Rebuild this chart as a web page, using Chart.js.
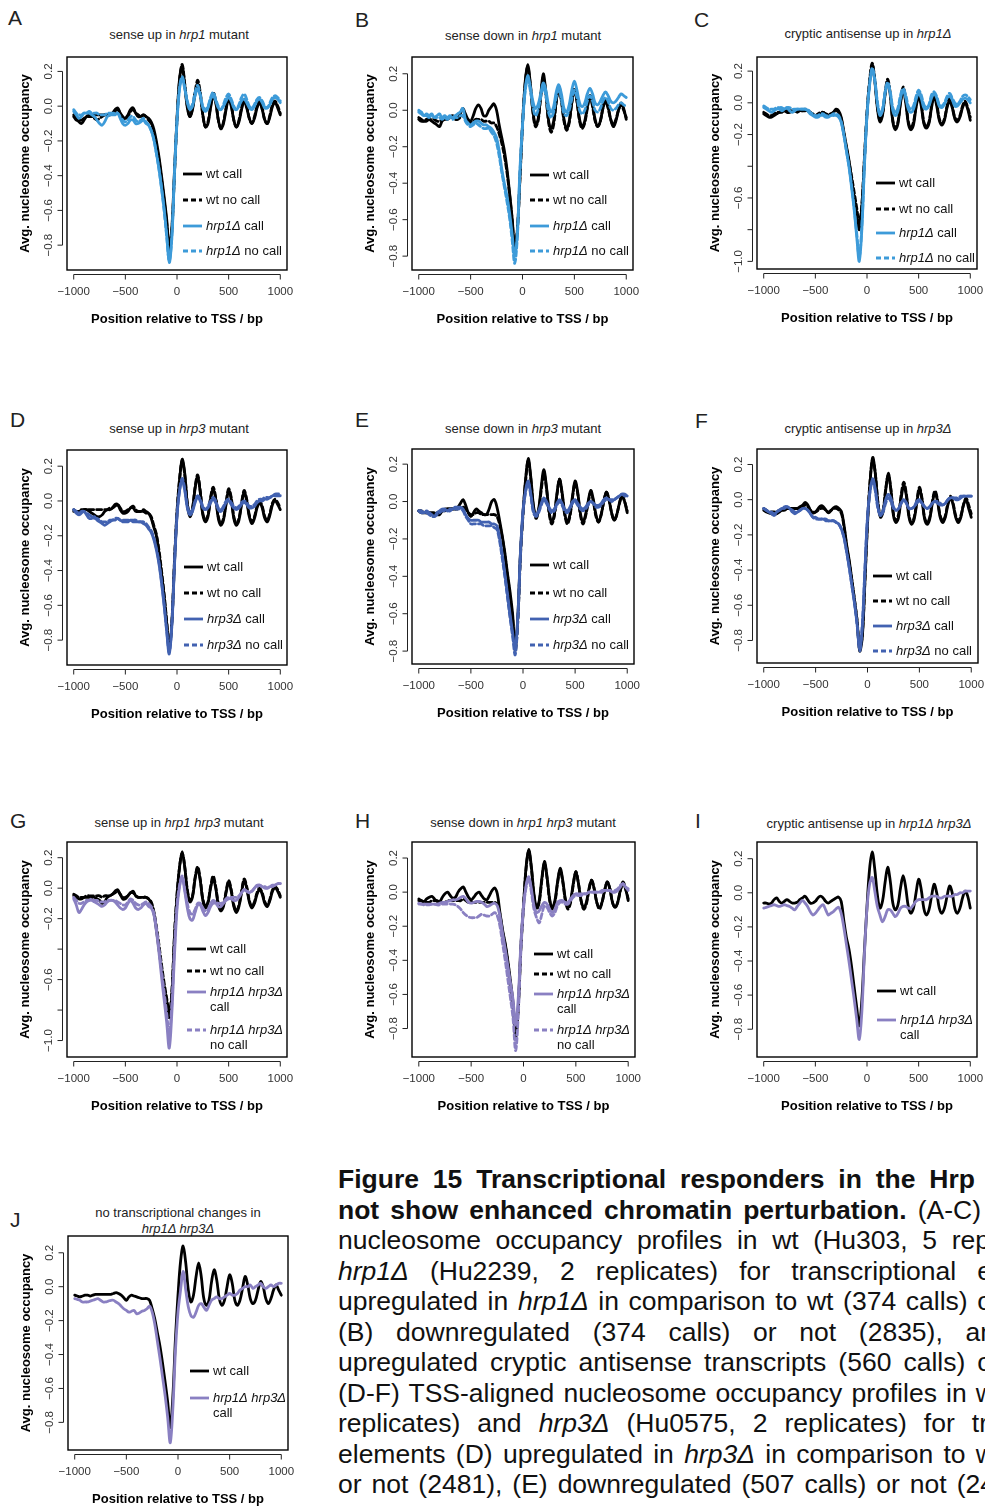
<!DOCTYPE html>
<html>
<head>
<meta charset="utf-8">
<script src="https://cdn.jsdelivr.net/npm/chart.js@4.4.0/dist/chart.umd.min.js"></script>
<style>
  html, body { margin: 0; padding: 0; background: #fff; }
  body { width: 985px; height: 1506px; overflow: hidden; position: relative;
         font-family: "Liberation Sans", Arial, Helvetica, sans-serif; }
  canvas { position: absolute; }
  .letter { position: absolute; font-size: 21px; line-height: 21px; color: #222; }
  .ptitle { position: absolute; font-size: 13px; line-height: 13px; color: #222;
            white-space: nowrap; transform: translate(-50%, -50%); }
  #cap { position: absolute; left: 338px; top: 1164px; font-size: 26.5px; line-height: 30.5px; color: #111; }
  #cap div { text-align: justify; text-align-last: justify; }
</style>
</head>
<body>

<div class="letter" style="left:8px;top:7px">A</div>
<div class="letter" style="left:355px;top:9px">B</div>
<div class="letter" style="left:694px;top:9px">C</div>
<div class="letter" style="left:10px;top:409px">D</div>
<div class="letter" style="left:355px;top:409px">E</div>
<div class="letter" style="left:695px;top:410px">F</div>
<div class="letter" style="left:10px;top:810px">G</div>
<div class="letter" style="left:355px;top:810px">H</div>
<div class="letter" style="left:695px;top:810px">I</div>
<div class="letter" style="left:10px;top:1209px">J</div>

<div class="ptitle" style="left:179px;top:34px">sense up in <i>hrp1</i> mutant</div>
<div class="ptitle" style="left:523px;top:35px">sense down in <i>hrp1</i> mutant</div>
<div class="ptitle" style="left:868px;top:33px">cryptic antisense up in <i>hrp1Δ</i></div>
<div class="ptitle" style="left:179px;top:428px">sense up in <i>hrp3</i> mutant</div>
<div class="ptitle" style="left:523px;top:428px">sense down in <i>hrp3</i> mutant</div>
<div class="ptitle" style="left:868px;top:428px">cryptic antisense up in <i>hrp3Δ</i></div>
<div class="ptitle" style="left:179px;top:822px">sense up in <i>hrp1 hrp3</i> mutant</div>
<div class="ptitle" style="left:523px;top:822px">sense down in <i>hrp1 hrp3</i> mutant</div>
<div class="ptitle" style="left:869px;top:823px">cryptic antisense up in <i>hrp1Δ hrp3Δ</i></div>
<div class="ptitle" style="left:178px;top:1212px">no transcriptional changes in</div>
<div class="ptitle" style="left:178px;top:1228px"><i>hrp1Δ hrp3Δ</i></div>

<div id="cap">
  <div style="width:637px"><b>Figure 15 Transcriptional responders in the Hrp</b></div>
  <div style="width:643px"><b>not show enhanced chromatin perturbation.</b> (A-C)</div>
  <div style="width:652px">nucleosome occupancy profiles in wt (Hu303, 5 rep</div>
  <div style="width:654px"><i>hrp1Δ</i> (Hu2239, 2 replicates) for transcriptional e</div>
  <div style="width:654px">upregulated in <i>hrp1Δ</i> in comparison to wt (374 calls) o</div>
  <div style="width:657px">(B) downregulated (374 calls) or not (2835), an</div>
  <div style="width:654px">upregulated cryptic antisense transcripts (560 calls) o</div>
  <div style="width:657px">(D-F) TSS-aligned nucleosome occupancy profiles in w</div>
  <div style="width:650px">replicates) and <i>hrp3Δ</i> (Hu0575, 2 replicates) for tr</div>
  <div style="width:657px">elements (D) upregulated in <i>hrp3Δ</i> in comparison to w</div>
  <div style="width:657px">or not (2481), (E) downregulated (507 calls) or not (24</div>
</div>

<script>
// positions relative to TSS (bp)
const POS = [
  -1000,-975,-950,-925,-900,-875,-850,-825,-800,-775,-750,-725,-700,-675,-650,-625,-600,-575,-550,-525,
  -500,-475,-450,-425,-400,-375,-350,-325,-300,-275,-250,-225,-200,-175,-150,-125,-100,-75,-50,-25,
  0,25,50,75,100,125,150,175,200,225,250,275,300,325,350,375,400,425,450,475,
  500,525,550,575,600,625,650,675,700,725,750,775,800,825,850,875,900,925,950,975,1000
];
const X_TICKS = [-1000, -500, 0, 500, 1000];
const Y_TICKS = [-0.8, -0.6, -0.4, -0.2, 0, 0.2];
const Y_TICKS_LONG = [-1.0, -0.8, -0.6, -0.4, -0.2, 0, 0.2];

// --- A: sense up in hrp1 mutant
const A_WT_CALL = [
  -0.05,-0.07,-0.09,-0.10,-0.08,-0.06,-0.05,-0.05,-0.05,-0.05,-0.05,-0.05,-0.05,-0.05,-0.05,-0.04,-0.02,-0.01,-0.04,-0.07,
  -0.07,-0.05,-0.02,-0.01,-0.04,-0.05,-0.06,-0.05,-0.06,-0.07,-0.09,-0.13,-0.20,-0.29,-0.40,-0.52,-0.65,-0.81,-0.70,-0.38,
  -0.07,0.16,0.23,0.12,-0.01,-0.06,-0.02,0.07,0.13,0.07,-0.05,-0.12,-0.10,-0.01,0.06,0.02,-0.08,-0.13,-0.10,-0.02,
  0.04,0.00,-0.08,-0.12,-0.09,-0.02,0.03,-0.01,-0.07,-0.10,-0.07,-0.01,0.02,-0.02,-0.08,-0.10,-0.06,0.00,0.02,-0.01,-0.05
];
const A_WT_NOCALL = [
  -0.06,-0.08,-0.08,-0.08,-0.07,-0.06,-0.06,-0.06,-0.07,-0.08,-0.07,-0.06,-0.05,-0.05,-0.05,-0.04,-0.03,-0.02,-0.04,-0.06,
  -0.07,-0.06,-0.03,-0.02,-0.04,-0.06,-0.06,-0.05,-0.06,-0.08,-0.10,-0.15,-0.22,-0.31,-0.42,-0.54,-0.67,-0.83,-0.72,-0.40,
  -0.08,0.15,0.24,0.13,0.00,-0.06,-0.01,0.08,0.15,0.08,-0.05,-0.12,-0.09,0.00,0.08,0.03,-0.08,-0.13,-0.09,-0.01,
  0.05,0.01,-0.08,-0.12,-0.08,-0.01,0.04,0.00,-0.07,-0.10,-0.06,0.00,0.03,-0.01,-0.08,-0.10,-0.05,0.01,0.03,0.00,-0.04
];
const A_MUT_CALL = [
  -0.03,-0.05,-0.07,-0.06,-0.04,-0.04,-0.04,-0.05,-0.06,-0.08,-0.10,-0.11,-0.09,-0.06,-0.05,-0.05,-0.05,-0.04,-0.07,-0.10,
  -0.11,-0.10,-0.08,-0.08,-0.10,-0.10,-0.09,-0.08,-0.10,-0.11,-0.14,-0.19,-0.27,-0.36,-0.47,-0.59,-0.74,-0.90,-0.76,-0.40,
  -0.09,0.10,0.16,0.10,0.02,-0.02,0.00,0.06,0.10,0.06,-0.01,-0.03,-0.01,0.04,0.06,0.03,-0.01,-0.02,0.00,0.03,
  0.05,0.03,-0.01,-0.02,0.00,0.03,0.04,0.02,-0.01,-0.02,0.00,0.03,0.04,0.02,-0.01,-0.01,0.01,0.04,0.05,0.04,0.02
];
const A_MUT_NOCALL = [
  -0.02,-0.04,-0.05,-0.05,-0.04,-0.04,-0.03,-0.04,-0.04,-0.04,-0.05,-0.05,-0.05,-0.04,-0.04,-0.04,-0.04,-0.04,-0.06,-0.08,
  -0.09,-0.08,-0.06,-0.06,-0.08,-0.09,-0.08,-0.07,-0.09,-0.11,-0.14,-0.19,-0.27,-0.36,-0.47,-0.60,-0.75,-0.89,-0.75,-0.39,
  -0.08,0.11,0.17,0.11,0.03,-0.01,0.01,0.08,0.12,0.07,0.00,-0.02,0.00,0.05,0.08,0.04,0.00,-0.02,0.01,0.05,
  0.07,0.04,0.00,-0.02,0.01,0.05,0.07,0.04,0.00,-0.01,0.01,0.04,0.05,0.03,0.00,-0.01,0.02,0.05,0.06,0.05,0.03
];

// --- B: sense down in hrp1 mutant
const B_WT_CALL = [
  -0.04,-0.05,-0.06,-0.06,-0.05,-0.06,-0.07,-0.08,-0.09,-0.06,-0.05,-0.05,-0.04,-0.03,-0.04,-0.04,-0.02,0.01,-0.02,-0.05,
  -0.06,-0.03,0.01,0.03,0.01,-0.03,-0.03,0.00,0.02,0.035,0.00,-0.08,-0.15,-0.22,-0.32,-0.45,-0.59,-0.75,-0.66,-0.38,
  -0.08,0.15,0.25,0.15,0.00,-0.08,-0.05,0.08,0.20,0.10,-0.05,-0.10,-0.06,0.05,0.13,0.06,-0.05,-0.10,-0.06,0.04,
  0.11,0.05,-0.05,-0.09,-0.06,0.02,0.08,0.03,-0.05,-0.09,-0.06,0.01,0.06,0.02,-0.05,-0.09,-0.06,0.00,0.04,0.01,-0.05
];
const B_WT_NOCALL = [
  -0.05,-0.06,-0.06,-0.05,-0.05,-0.05,-0.05,-0.06,-0.06,-0.05,-0.04,-0.04,-0.04,-0.04,-0.05,-0.05,-0.04,-0.03,-0.04,-0.06,
  -0.07,-0.06,-0.05,-0.05,-0.05,-0.06,-0.06,-0.06,-0.07,-0.07,-0.09,-0.13,-0.18,-0.25,-0.34,-0.46,-0.60,-0.76,-0.66,-0.38,
  -0.08,0.14,0.24,0.14,-0.01,-0.09,-0.06,0.07,0.18,0.09,-0.06,-0.12,-0.08,0.04,0.12,0.05,-0.06,-0.11,-0.07,0.04,
  0.12,0.05,-0.06,-0.10,-0.07,0.01,0.08,0.02,-0.06,-0.09,-0.06,0.01,0.05,0.01,-0.05,-0.08,-0.05,0.00,0.03,0.00,-0.04
];
const B_MUT_CALL = [
  0.00,-0.01,-0.03,-0.02,-0.03,-0.02,-0.04,-0.03,-0.02,-0.04,-0.03,-0.04,-0.03,-0.04,-0.03,-0.02,-0.01,0.01,-0.05,-0.07,
  -0.08,-0.07,-0.06,-0.06,-0.07,-0.08,-0.08,-0.09,-0.10,-0.12,-0.15,-0.22,-0.32,-0.40,-0.47,-0.56,-0.68,-0.80,-0.68,-0.33,
  -0.08,0.11,0.19,0.13,0.05,0.01,0.03,0.09,0.15,0.11,0.03,-0.01,0.02,0.10,0.14,0.09,0.01,-0.01,0.03,0.11,
  0.16,0.11,0.04,0.02,0.04,0.09,0.12,0.09,0.04,0.03,0.05,0.08,0.10,0.08,0.05,0.04,0.05,0.07,0.09,0.08,0.07
];
const B_MUT_NOCALL = [
  -0.01,-0.02,-0.03,-0.03,-0.04,-0.03,-0.04,-0.04,-0.04,-0.05,-0.04,-0.05,-0.04,-0.05,-0.04,-0.04,-0.03,-0.03,-0.06,-0.08,
  -0.09,-0.08,-0.07,-0.08,-0.09,-0.10,-0.10,-0.10,-0.12,-0.14,-0.18,-0.25,-0.34,-0.42,-0.50,-0.59,-0.71,-0.84,-0.70,-0.35,
  -0.09,0.10,0.17,0.11,0.02,-0.03,0.00,0.07,0.13,0.08,-0.01,-0.04,-0.01,0.07,0.12,0.06,-0.02,-0.03,0.00,0.06,
  0.11,0.07,0.00,-0.02,0.00,0.05,0.08,0.05,0.00,-0.01,0.01,0.05,0.07,0.05,0.01,0.00,0.01,0.03,0.04,0.03,0.02
];

// --- C: cryptic antisense up in hrp1Δ
const C_WT_CALL = [
  -0.07,-0.08,-0.09,-0.09,-0.08,-0.07,-0.06,-0.06,-0.05,-0.06,-0.06,-0.05,-0.05,-0.06,-0.05,-0.05,-0.05,-0.05,-0.06,-0.07,
  -0.08,-0.08,-0.07,-0.06,-0.07,-0.08,-0.07,-0.06,-0.04,-0.05,-0.09,-0.18,-0.27,-0.36,-0.48,-0.60,-0.70,-0.80,-0.66,-0.36,
  -0.07,0.13,0.24,0.14,-0.03,-0.12,-0.08,0.05,0.14,0.05,-0.12,-0.17,-0.13,0.00,0.08,0.00,-0.13,-0.17,-0.14,-0.03,
  0.04,-0.02,-0.13,-0.16,-0.13,-0.03,0.04,-0.02,-0.11,-0.14,-0.11,-0.03,0.01,-0.03,-0.10,-0.12,-0.09,-0.03,0.00,-0.04,-0.11
];
const C_WT_NOCALL = [
  -0.06,-0.07,-0.08,-0.08,-0.07,-0.06,-0.06,-0.05,-0.05,-0.05,-0.05,-0.05,-0.05,-0.05,-0.05,-0.05,-0.04,-0.05,-0.06,-0.07,
  -0.08,-0.07,-0.06,-0.06,-0.07,-0.07,-0.07,-0.06,-0.05,-0.06,-0.10,-0.19,-0.28,-0.37,-0.46,-0.56,-0.66,-0.76,-0.64,-0.35,
  -0.06,0.14,0.25,0.15,-0.02,-0.11,-0.07,0.06,0.15,0.06,-0.11,-0.16,-0.12,0.01,0.10,0.02,-0.12,-0.16,-0.12,-0.02,
  0.06,0.00,-0.12,-0.15,-0.12,-0.02,0.06,0.00,-0.10,-0.13,-0.10,-0.02,0.03,-0.02,-0.09,-0.11,-0.08,-0.02,0.01,-0.03,-0.09
];
const C_MUT_CALL = [
  -0.03,-0.04,-0.05,-0.06,-0.05,-0.04,-0.04,-0.05,-0.04,-0.03,-0.05,-0.06,-0.05,-0.04,-0.04,-0.04,-0.04,-0.05,-0.07,-0.08,
  -0.09,-0.09,-0.08,-0.08,-0.09,-0.09,-0.08,-0.08,-0.08,-0.09,-0.12,-0.20,-0.30,-0.40,-0.53,-0.67,-0.84,-1.00,-0.80,-0.40,
  -0.08,0.11,0.21,0.14,0.00,-0.08,-0.05,0.06,0.12,0.06,-0.05,-0.08,-0.05,0.03,0.08,0.03,-0.04,-0.06,-0.04,0.02,
  0.06,0.03,-0.03,-0.04,-0.02,0.03,0.06,0.03,-0.02,-0.03,-0.01,0.03,0.04,0.02,-0.02,-0.02,0.00,0.02,0.03,0.02,0.00
];
const C_MUT_NOCALL = [
  -0.02,-0.03,-0.04,-0.04,-0.04,-0.03,-0.03,-0.03,-0.04,-0.03,-0.03,-0.04,-0.04,-0.04,-0.04,-0.04,-0.04,-0.04,-0.06,-0.07,
  -0.08,-0.08,-0.07,-0.07,-0.08,-0.08,-0.08,-0.07,-0.07,-0.08,-0.12,-0.20,-0.30,-0.40,-0.52,-0.66,-0.82,-0.97,-0.78,-0.39,
  -0.07,0.12,0.22,0.15,0.01,-0.07,-0.04,0.07,0.13,0.07,-0.03,-0.06,-0.03,0.05,0.09,0.05,-0.02,-0.04,-0.02,0.04,
  0.08,0.05,-0.01,-0.03,-0.01,0.05,0.07,0.04,-0.01,-0.02,0.00,0.04,0.06,0.03,0.00,-0.01,0.01,0.04,0.05,0.04,0.02
];

// --- D: sense up in hrp3 mutant
const D_WT_CALL = [
  -0.06,-0.06,-0.06,-0.06,-0.05,-0.05,-0.06,-0.07,-0.08,-0.09,-0.09,-0.08,-0.06,-0.05,-0.05,-0.04,-0.02,-0.02,-0.05,-0.07,
  -0.07,-0.06,-0.04,-0.04,-0.06,-0.06,-0.06,-0.06,-0.07,-0.07,-0.10,-0.15,-0.20,-0.30,-0.42,-0.55,-0.70,-0.85,-0.70,-0.36,
  -0.07,0.12,0.24,0.16,-0.02,-0.09,-0.05,0.07,0.14,0.05,-0.08,-0.12,-0.09,0.01,0.07,0.01,-0.10,-0.14,-0.11,-0.02,
  0.06,0.01,-0.10,-0.14,-0.11,-0.02,0.05,0.00,-0.09,-0.13,-0.10,-0.04,-0.01,-0.04,-0.10,-0.12,-0.08,-0.02,0.00,-0.02,-0.05
];
const D_WT_NOCALL = [
  -0.05,-0.06,-0.06,-0.05,-0.05,-0.05,-0.05,-0.05,-0.05,-0.05,-0.05,-0.05,-0.05,-0.05,-0.04,-0.04,-0.03,-0.02,-0.04,-0.06,
  -0.06,-0.05,-0.04,-0.03,-0.05,-0.06,-0.06,-0.05,-0.06,-0.07,-0.09,-0.14,-0.19,-0.28,-0.40,-0.53,-0.69,-0.84,-0.70,-0.35,
  -0.06,0.13,0.23,0.15,-0.01,-0.08,-0.04,0.08,0.15,0.06,-0.07,-0.11,-0.08,0.02,0.08,0.02,-0.09,-0.13,-0.10,-0.01,
  0.07,0.02,-0.09,-0.13,-0.10,-0.01,0.06,0.01,-0.08,-0.12,-0.09,-0.03,0.00,-0.03,-0.09,-0.11,-0.07,-0.01,0.01,-0.01,-0.04
];
const D_MUT_CALL = [
  -0.05,-0.07,-0.08,-0.07,-0.06,-0.08,-0.10,-0.10,-0.09,-0.11,-0.12,-0.13,-0.14,-0.13,-0.12,-0.11,-0.11,-0.10,-0.11,-0.12,
  -0.12,-0.12,-0.11,-0.12,-0.12,-0.12,-0.12,-0.13,-0.14,-0.16,-0.18,-0.22,-0.28,-0.36,-0.47,-0.60,-0.75,-0.88,-0.72,-0.38,
  -0.09,0.06,0.12,0.06,-0.04,-0.08,-0.06,-0.01,0.02,0.00,-0.04,-0.05,-0.04,-0.01,0.01,-0.01,-0.05,-0.06,-0.04,-0.01,
  0.00,-0.02,-0.04,-0.05,-0.04,-0.02,-0.01,-0.02,-0.04,-0.04,-0.03,-0.01,0.00,0.00,0.01,0.01,0.02,0.03,0.03,0.03,0.03
];
const D_MUT_NOCALL = [
  -0.05,-0.06,-0.07,-0.06,-0.06,-0.07,-0.08,-0.09,-0.10,-0.10,-0.11,-0.12,-0.12,-0.12,-0.11,-0.11,-0.10,-0.10,-0.11,-0.11,
  -0.11,-0.11,-0.11,-0.11,-0.11,-0.12,-0.12,-0.12,-0.13,-0.15,-0.17,-0.21,-0.27,-0.35,-0.46,-0.59,-0.74,-0.87,-0.71,-0.37,
  -0.08,0.06,0.13,0.07,-0.03,-0.07,-0.05,0.00,0.03,0.01,-0.03,-0.05,-0.03,0.00,0.02,0.00,-0.04,-0.05,-0.03,0.00,
  0.01,-0.01,-0.03,-0.04,-0.03,-0.01,0.00,-0.01,-0.03,-0.03,-0.02,0.00,0.01,0.01,0.02,0.02,0.02,0.03,0.04,0.04,0.04
];

// --- E: sense down in hrp3 mutant
const E_WT_CALL = [
  -0.05,-0.06,-0.06,-0.06,-0.06,-0.06,-0.06,-0.07,-0.07,-0.05,-0.04,-0.04,-0.04,-0.04,-0.04,-0.03,-0.01,0.01,-0.02,-0.06,
  -0.08,-0.06,-0.04,-0.05,-0.06,-0.07,-0.07,-0.04,0.00,0.01,-0.03,-0.10,-0.18,-0.27,-0.38,-0.48,-0.60,-0.78,-0.62,-0.28,
  -0.06,0.12,0.23,0.13,-0.02,-0.08,-0.04,0.08,0.17,0.08,-0.05,-0.11,-0.07,0.04,0.12,0.05,-0.06,-0.11,-0.07,0.03,
  0.11,0.05,-0.06,-0.11,-0.07,0.00,0.06,0.01,-0.07,-0.11,-0.07,0.00,0.05,0.01,-0.06,-0.10,-0.07,-0.01,0.03,0.00,-0.06
];
const E_WT_NOCALL = [
  -0.05,-0.05,-0.06,-0.06,-0.06,-0.07,-0.07,-0.06,-0.06,-0.05,-0.05,-0.04,-0.04,-0.04,-0.04,-0.04,-0.03,-0.03,-0.04,-0.06,
  -0.07,-0.07,-0.06,-0.06,-0.07,-0.07,-0.07,-0.07,-0.07,-0.07,-0.08,-0.12,-0.19,-0.28,-0.39,-0.50,-0.62,-0.80,-0.64,-0.30,
  -0.07,0.11,0.22,0.12,-0.03,-0.09,-0.05,0.06,0.15,0.07,-0.06,-0.12,-0.08,0.03,0.12,0.04,-0.07,-0.12,-0.08,0.02,
  0.10,0.04,-0.07,-0.12,-0.08,-0.01,0.05,0.00,-0.08,-0.11,-0.07,0.00,0.05,0.01,-0.06,-0.10,-0.07,-0.01,0.03,0.00,-0.05
];
const E_MUT_CALL = [
  -0.05,-0.05,-0.06,-0.05,-0.06,-0.07,-0.08,-0.06,-0.05,-0.04,-0.04,-0.05,-0.04,-0.04,-0.03,-0.03,-0.03,-0.04,-0.07,-0.09,
  -0.10,-0.10,-0.10,-0.10,-0.11,-0.11,-0.11,-0.11,-0.12,-0.12,-0.13,-0.19,-0.28,-0.38,-0.49,-0.60,-0.70,-0.79,-0.62,-0.28,
  -0.05,0.06,0.11,0.04,-0.05,-0.07,-0.05,-0.01,0.02,0.00,-0.03,-0.05,-0.04,-0.01,0.01,-0.01,-0.04,-0.05,-0.03,0.00,
  0.01,-0.01,-0.03,-0.04,-0.03,-0.01,0.00,-0.01,-0.02,-0.02,-0.01,0.01,0.02,0.01,0.01,0.01,0.02,0.03,0.04,0.04,0.03
];
const E_MUT_NOCALL = [
  -0.05,-0.06,-0.06,-0.06,-0.07,-0.08,-0.08,-0.07,-0.06,-0.05,-0.05,-0.05,-0.05,-0.04,-0.04,-0.04,-0.04,-0.05,-0.08,-0.10,
  -0.12,-0.12,-0.12,-0.12,-0.12,-0.13,-0.13,-0.13,-0.13,-0.14,-0.15,-0.21,-0.30,-0.40,-0.51,-0.62,-0.72,-0.82,-0.64,-0.29,
  -0.06,0.05,0.10,0.03,-0.06,-0.08,-0.06,-0.02,0.01,-0.01,-0.04,-0.06,-0.05,-0.02,0.00,-0.02,-0.05,-0.06,-0.04,-0.01,
  0.00,-0.02,-0.04,-0.05,-0.04,-0.02,0.00,-0.01,-0.03,-0.03,-0.02,0.00,0.01,0.01,0.00,0.01,0.02,0.03,0.04,0.03,0.03
];

// --- F: cryptic antisense up in hrp3Δ
const F_WT_CALL = [
  -0.06,-0.07,-0.075,-0.08,-0.085,-0.08,-0.07,-0.06,-0.06,-0.05,-0.05,-0.05,-0.05,-0.05,-0.04,-0.03,-0.015,-0.03,-0.06,-0.075,
  -0.07,-0.05,-0.035,-0.04,-0.06,-0.075,-0.06,-0.045,-0.04,-0.05,-0.07,-0.15,-0.26,-0.35,-0.46,-0.57,-0.69,-0.86,-0.78,-0.47,
  -0.14,0.10,0.24,0.15,-0.02,-0.10,-0.07,0.05,0.15,0.06,-0.09,-0.13,-0.10,0.01,0.08,0.02,-0.10,-0.14,-0.11,-0.02,
  0.06,0.00,-0.11,-0.14,-0.11,-0.02,0.04,-0.01,-0.10,-0.13,-0.10,-0.03,0.01,-0.03,-0.10,-0.13,-0.10,-0.03,0.00,-0.05,-0.10
];
const F_WT_NOCALL = [
  -0.05,-0.06,-0.07,-0.07,-0.07,-0.07,-0.06,-0.06,-0.05,-0.05,-0.05,-0.05,-0.05,-0.05,-0.05,-0.04,-0.03,-0.04,-0.06,-0.07,
  -0.07,-0.06,-0.05,-0.05,-0.06,-0.07,-0.06,-0.05,-0.05,-0.06,-0.08,-0.16,-0.27,-0.36,-0.46,-0.57,-0.69,-0.85,-0.77,-0.46,
  -0.13,0.11,0.23,0.15,-0.01,-0.09,-0.06,0.06,0.14,0.06,-0.08,-0.12,-0.08,0.03,0.10,0.03,-0.09,-0.13,-0.10,-0.01,
  0.07,0.01,-0.10,-0.13,-0.10,-0.01,0.05,0.00,-0.09,-0.12,-0.09,-0.02,0.02,-0.02,-0.09,-0.12,-0.09,-0.03,0.01,-0.03,-0.08
];
const F_MUT_CALL = [
  -0.05,-0.06,-0.07,-0.08,-0.09,-0.07,-0.06,-0.05,-0.05,-0.04,-0.05,-0.07,-0.08,-0.07,-0.06,-0.05,-0.05,-0.06,-0.08,-0.10,
  -0.10,-0.11,-0.11,-0.11,-0.11,-0.12,-0.12,-0.12,-0.13,-0.14,-0.17,-0.22,-0.30,-0.39,-0.49,-0.59,-0.71,-0.86,-0.72,-0.40,
  -0.10,0.05,0.12,0.06,-0.04,-0.09,-0.06,0.00,0.03,0.01,-0.04,-0.06,-0.05,-0.02,0.00,-0.02,-0.05,-0.05,-0.04,-0.01,
  0.00,-0.02,-0.04,-0.05,-0.04,-0.02,-0.01,-0.02,-0.03,-0.03,-0.02,0.00,0.01,0.01,0.00,0.00,0.01,0.02,0.02,0.02,0.02
];
const F_MUT_NOCALL = [
  -0.05,-0.06,-0.07,-0.07,-0.08,-0.07,-0.06,-0.05,-0.04,-0.04,-0.05,-0.06,-0.07,-0.07,-0.06,-0.05,-0.05,-0.06,-0.08,-0.10,
  -0.11,-0.11,-0.11,-0.11,-0.12,-0.12,-0.12,-0.12,-0.13,-0.14,-0.17,-0.22,-0.30,-0.39,-0.49,-0.59,-0.71,-0.85,-0.71,-0.40,
  -0.10,0.05,0.11,0.05,-0.05,-0.09,-0.07,-0.02,0.01,-0.01,-0.05,-0.06,-0.05,-0.02,0.00,-0.02,-0.05,-0.05,-0.04,-0.02,
  -0.01,-0.02,-0.04,-0.05,-0.04,-0.02,-0.01,-0.01,-0.02,-0.03,-0.02,0.00,0.01,0.01,0.01,0.01,0.02,0.02,0.02,0.02,0.02
];

// --- G: sense up in hrp1 hrp3 mutant
const G_WT_CALL = [
  -0.05,-0.06,-0.07,-0.07,-0.06,-0.06,-0.06,-0.06,-0.06,-0.07,-0.08,-0.10,-0.09,-0.06,-0.05,-0.04,-0.02,-0.01,-0.04,-0.07,
  -0.07,-0.05,-0.03,-0.02,-0.05,-0.06,-0.06,-0.06,-0.06,-0.07,-0.10,-0.16,-0.27,-0.40,-0.53,-0.65,-0.74,-0.85,-0.70,-0.33,
  -0.05,0.14,0.24,0.14,-0.02,-0.09,-0.06,0.06,0.13,0.05,-0.08,-0.13,-0.10,0.00,0.06,0.00,-0.11,-0.15,-0.12,-0.03,
  0.04,-0.02,-0.12,-0.16,-0.12,-0.03,0.05,0.00,-0.09,-0.13,-0.10,-0.04,-0.01,-0.04,-0.10,-0.12,-0.08,-0.02,0.00,-0.02,-0.06
];
const G_WT_NOCALL = [
  -0.04,-0.05,-0.06,-0.06,-0.06,-0.05,-0.05,-0.05,-0.05,-0.05,-0.05,-0.06,-0.05,-0.05,-0.05,-0.04,-0.03,-0.02,-0.04,-0.06,
  -0.06,-0.05,-0.03,-0.03,-0.05,-0.06,-0.06,-0.06,-0.06,-0.07,-0.09,-0.15,-0.25,-0.37,-0.50,-0.62,-0.72,-0.82,-0.68,-0.31,
  -0.04,0.14,0.23,0.14,-0.01,-0.08,-0.05,0.07,0.14,0.06,-0.07,-0.12,-0.09,0.01,0.08,0.01,-0.10,-0.14,-0.11,-0.02,
  0.05,-0.01,-0.11,-0.15,-0.11,-0.02,0.06,0.01,-0.08,-0.12,-0.09,-0.03,0.00,-0.03,-0.09,-0.11,-0.07,-0.01,0.01,-0.01,-0.05
];
const G_MUT_CALL = [
  -0.07,-0.11,-0.16,-0.14,-0.11,-0.09,-0.08,-0.08,-0.09,-0.10,-0.11,-0.12,-0.11,-0.09,-0.08,-0.08,-0.09,-0.11,-0.13,-0.14,
  -0.13,-0.10,-0.08,-0.10,-0.13,-0.14,-0.13,-0.11,-0.10,-0.12,-0.13,-0.17,-0.28,-0.42,-0.58,-0.73,-0.88,-1.05,-0.82,-0.45,
  -0.14,0.01,0.07,-0.02,-0.13,-0.20,-0.21,-0.16,-0.11,-0.11,-0.15,-0.18,-0.16,-0.12,-0.10,-0.10,-0.12,-0.12,-0.10,-0.08,
  -0.07,-0.07,-0.08,-0.08,-0.06,-0.03,-0.01,-0.02,-0.03,-0.02,0.00,0.02,0.02,0.01,0.00,0.00,0.01,0.01,0.02,0.03,0.03
];
const G_MUT_NOCALL = [
  -0.06,-0.08,-0.10,-0.10,-0.09,-0.08,-0.08,-0.07,-0.08,-0.08,-0.09,-0.09,-0.09,-0.08,-0.08,-0.08,-0.08,-0.09,-0.10,-0.11,
  -0.11,-0.09,-0.07,-0.08,-0.10,-0.11,-0.11,-0.10,-0.09,-0.10,-0.12,-0.16,-0.26,-0.39,-0.54,-0.68,-0.82,-0.96,-0.76,-0.40,
  -0.11,0.02,0.08,-0.01,-0.10,-0.16,-0.17,-0.14,-0.10,-0.10,-0.13,-0.15,-0.14,-0.10,-0.08,-0.09,-0.10,-0.10,-0.09,-0.07,
  -0.06,-0.06,-0.06,-0.06,-0.05,-0.03,-0.01,-0.02,-0.02,-0.02,0.00,0.01,0.02,0.01,0.01,0.00,0.01,0.02,0.02,0.03,0.03
];

// --- H: sense down in hrp1 hrp3 mutant
const H_WT_CALL = [
  -0.04,-0.05,-0.055,-0.04,-0.03,-0.025,-0.04,-0.055,-0.055,-0.03,-0.01,0.00,-0.02,-0.035,-0.03,0.00,0.02,0.03,0.00,-0.03,
  -0.045,-0.03,-0.01,0.00,-0.02,-0.04,-0.045,-0.02,0.01,0.025,-0.01,-0.12,-0.22,-0.30,-0.40,-0.52,-0.65,-0.84,-0.67,-0.32,
  -0.08,0.15,0.25,0.15,-0.01,-0.09,-0.05,0.08,0.18,0.09,-0.04,-0.09,-0.05,0.06,0.14,0.07,-0.04,-0.09,-0.05,0.05,
  0.12,0.05,-0.05,-0.09,-0.06,0.02,0.07,0.02,-0.06,-0.09,-0.06,0.01,0.06,0.02,-0.06,-0.09,-0.06,0.01,0.05,0.02,-0.05
];
const H_WT_NOCALL = [
  -0.05,-0.05,-0.06,-0.06,-0.06,-0.05,-0.05,-0.05,-0.06,-0.06,-0.06,-0.05,-0.05,-0.05,-0.05,-0.05,-0.05,-0.04,-0.05,-0.06,
  -0.06,-0.06,-0.06,-0.06,-0.06,-0.06,-0.06,-0.06,-0.06,-0.06,-0.07,-0.13,-0.23,-0.31,-0.41,-0.53,-0.66,-0.85,-0.68,-0.33,
  -0.08,0.14,0.24,0.14,-0.02,-0.10,-0.06,0.07,0.17,0.08,-0.05,-0.10,-0.06,0.05,0.13,0.06,-0.05,-0.10,-0.06,0.04,
  0.12,0.05,-0.05,-0.10,-0.07,0.01,0.07,0.02,-0.06,-0.10,-0.06,0.01,0.06,0.02,-0.06,-0.09,-0.06,0.01,0.06,0.02,-0.04
];
const H_MUT_CALL = [
  -0.065,-0.07,-0.07,-0.07,-0.07,-0.07,-0.07,-0.07,-0.065,-0.06,-0.06,-0.055,-0.05,-0.045,-0.045,-0.04,-0.03,-0.025,-0.04,-0.06,
  -0.065,-0.06,-0.055,-0.055,-0.06,-0.07,-0.085,-0.08,-0.07,-0.065,-0.08,-0.14,-0.24,-0.33,-0.43,-0.53,-0.63,-0.78,-0.62,-0.30,
  -0.08,0.04,0.09,0.02,-0.08,-0.12,-0.11,-0.08,-0.06,-0.07,-0.10,-0.12,-0.10,-0.06,-0.05,-0.05,-0.06,-0.06,-0.04,-0.02,
  -0.01,-0.01,-0.01,-0.01,-0.01,0.00,0.00,0.00,0.00,0.00,0.00,0.01,0.01,0.01,0.00,0.00,0.01,0.03,0.05,0.03,0.01
];
const H_MUT_NOCALL = [
  -0.07,-0.07,-0.075,-0.075,-0.075,-0.07,-0.07,-0.075,-0.075,-0.07,-0.07,-0.07,-0.07,-0.07,-0.075,-0.085,-0.10,-0.12,-0.135,-0.145,
  -0.15,-0.15,-0.15,-0.14,-0.13,-0.135,-0.14,-0.14,-0.13,-0.12,-0.14,-0.20,-0.30,-0.40,-0.51,-0.62,-0.74,-0.93,-0.72,-0.35,
  -0.10,0.03,0.08,0.00,-0.10,-0.15,-0.18,-0.13,-0.08,-0.09,-0.12,-0.14,-0.12,-0.08,-0.06,-0.06,-0.07,-0.07,-0.05,-0.03,
  -0.02,-0.02,-0.02,-0.01,-0.01,0.00,0.00,0.00,0.00,0.00,0.01,0.01,0.01,0.01,0.00,0.01,0.02,0.04,0.05,0.03,0.02
];

// --- I: cryptic antisense up in hrp1Δ hrp3Δ
const I_WT_CALL = [
  -0.06,-0.06,-0.065,-0.06,-0.04,-0.03,-0.05,-0.06,-0.05,-0.04,-0.05,-0.06,-0.06,-0.055,-0.04,-0.03,-0.02,-0.04,-0.06,-0.06,
  -0.05,-0.03,-0.02,-0.03,-0.05,-0.06,-0.05,-0.04,-0.03,-0.025,-0.05,-0.16,-0.26,-0.33,-0.43,-0.55,-0.67,-0.78,-0.63,-0.34,
  -0.08,0.14,0.24,0.14,-0.01,-0.09,-0.05,0.06,0.15,0.07,-0.06,-0.10,-0.07,0.03,0.10,0.03,-0.08,-0.12,-0.09,0.00,
  0.08,0.02,-0.09,-0.13,-0.10,-0.02,0.05,0.00,-0.09,-0.12,-0.09,-0.02,0.04,0.00,-0.09,-0.12,-0.09,-0.03,0.01,-0.02,-0.09
];
const I_MUT_CALL = [
  -0.09,-0.085,-0.08,-0.075,-0.07,-0.075,-0.08,-0.075,-0.07,-0.075,-0.08,-0.09,-0.10,-0.08,-0.06,-0.045,-0.06,-0.08,-0.11,-0.13,
  -0.12,-0.10,-0.08,-0.07,-0.10,-0.13,-0.12,-0.11,-0.095,-0.085,-0.12,-0.20,-0.30,-0.40,-0.51,-0.62,-0.74,-0.86,-0.70,-0.36,
  -0.09,0.05,0.09,0.01,-0.08,-0.13,-0.17,-0.14,-0.10,-0.10,-0.12,-0.14,-0.12,-0.09,-0.08,-0.08,-0.09,-0.09,-0.07,-0.05,
  -0.04,-0.04,-0.04,-0.04,-0.03,-0.02,-0.02,-0.02,-0.03,-0.03,-0.02,-0.02,-0.02,-0.02,-0.01,-0.01,0.00,0.00,0.01,0.01,0.01
];

// --- J: no transcriptional changes in hrp1Δ hrp3Δ
const J_WT_CALL = [
  -0.05,-0.055,-0.06,-0.055,-0.05,-0.05,-0.055,-0.05,-0.045,-0.045,-0.045,-0.045,-0.045,-0.045,-0.045,-0.04,-0.035,-0.04,-0.05,-0.065,
  -0.08,-0.06,-0.05,-0.055,-0.06,-0.065,-0.07,-0.07,-0.07,-0.08,-0.13,-0.19,-0.27,-0.35,-0.45,-0.56,-0.68,-0.83,-0.65,-0.31,
  -0.05,0.15,0.24,0.14,-0.02,-0.09,-0.05,0.06,0.14,0.06,-0.07,-0.11,-0.08,0.03,0.10,0.04,-0.07,-0.11,-0.08,0.00,
  0.07,0.02,-0.08,-0.11,-0.08,-0.01,0.06,0.01,-0.07,-0.10,-0.08,-0.02,0.03,0.00,-0.07,-0.10,-0.07,-0.02,0.01,-0.02,-0.05
];
const J_MUT_CALL = [
  -0.07,-0.075,-0.08,-0.09,-0.09,-0.09,-0.085,-0.08,-0.075,-0.07,-0.08,-0.09,-0.09,-0.085,-0.08,-0.08,-0.09,-0.10,-0.115,-0.13,
  -0.14,-0.15,-0.145,-0.14,-0.16,-0.155,-0.145,-0.14,-0.13,-0.115,-0.15,-0.22,-0.32,-0.42,-0.53,-0.64,-0.77,-0.92,-0.72,-0.38,
  -0.15,-0.02,0.09,-0.02,-0.12,-0.17,-0.18,-0.15,-0.11,-0.10,-0.12,-0.14,-0.11,-0.08,-0.07,-0.06,-0.07,-0.07,-0.06,-0.05,
  -0.04,-0.05,-0.05,-0.04,-0.02,-0.01,0.00,0.00,0.01,-0.01,0.00,0.01,0.02,0.00,-0.01,0.00,0.01,0.00,0.01,0.02,0.02
];

// Colours
const BLACK = '#000000';
const HRP1 = '#3d9bd9';
const HRP3 = '#4262b1';
const DOUBLE = '#8a80c2';
const FONT = '"Liberation Sans", Arial, Helvetica, sans-serif';
const DASH = [5, 3];

const MUT1 = [[['hrp1Δ', true], [' call', false]]];
const MUT1N = [[['hrp1Δ', true], [' no call', false]]];
const MUT3 = [[['hrp3Δ', true], [' call', false]]];
const MUT3N = [[['hrp3Δ', true], [' no call', false]]];
const MUT13 = [[['hrp1Δ hrp3Δ', true]], [['call', false]]];
const MUT13N = [[['hrp1Δ hrp3Δ', true]], [['no call', false]]];

// panel layout: plot box [left, top, right, bottom] in page px
const PANELS = [
  { box: [67, 57, 287, 270],    y: [-0.943, 0.283], yt: Y_TICKS, color: HRP1,
    s: [A_WT_CALL, A_WT_NOCALL, A_MUT_CALL, A_MUT_NOCALL], lab: [MUT1, MUT1N],
    leg: { lx: 116, rows: [117, 143, 169, 194] } },
  { box: [412, 57, 633, 270],   y: [-0.876, 0.292], yt: Y_TICKS, color: HRP1,
    s: [B_WT_CALL, B_WT_NOCALL, B_MUT_CALL, B_MUT_NOCALL], lab: [MUT1, MUT1N],
    leg: { lx: 118, rows: [118, 143, 169, 194] } },
  { box: [757, 57, 977, 269],   y: [-1.048, 0.289], yt: Y_TICKS_LONG, hide: [-0.4, -0.8], color: HRP1,
    s: [C_WT_CALL, C_WT_NOCALL, C_MUT_CALL, C_MUT_NOCALL], lab: [MUT1, MUT1N],
    leg: { lx: 119, rows: [126, 152, 176, 201] } },
  { box: [67, 450, 287, 665],   y: [-0.943, 0.293], yt: Y_TICKS, color: HRP3,
    s: [D_WT_CALL, D_WT_NOCALL, D_MUT_CALL, D_MUT_NOCALL], lab: [MUT3, MUT3N],
    leg: { lx: 117, rows: [117, 143, 169, 195] } },
  { box: [412, 449, 634, 664],  y: [-0.869, 0.281], yt: Y_TICKS, color: HRP3,
    s: [E_WT_CALL, E_WT_NOCALL, E_MUT_CALL, E_MUT_NOCALL], lab: [MUT3, MUT3N],
    leg: { lx: 118, rows: [116, 144, 170, 196] } },
  { box: [757, 449, 978, 663],  y: [-0.928, 0.288], yt: Y_TICKS, color: HRP3,
    s: [F_WT_CALL, F_WT_NOCALL, F_MUT_CALL, F_MUT_NOCALL], lab: [MUT3, MUT3N],
    leg: { lx: 116, rows: [127, 152, 177, 202] } },
  { box: [67, 842, 287, 1057],  y: [-1.108, 0.303], yt: Y_TICKS_LONG, hide: [-0.4, -0.8], color: DOUBLE,
    s: [G_WT_CALL, G_WT_NOCALL, G_MUT_CALL, G_MUT_NOCALL], lab: [MUT13, MUT13N],
    leg: { lx: 120, rows: [107, 129, 150, 188] } },
  { box: [412, 842, 635, 1057], y: [-0.967, 0.294], yt: Y_TICKS, color: DOUBLE,
    s: [H_WT_CALL, H_WT_NOCALL, H_MUT_CALL, H_MUT_NOCALL], lab: [MUT13, MUT13N],
    leg: { lx: 122, rows: [112, 132, 152, 188] } },
  { box: [757, 842, 977, 1057], y: [-0.963, 0.298], yt: Y_TICKS, color: DOUBLE,
    s: [I_WT_CALL, I_MUT_CALL], lab: [MUT13],
    leg: { lx: 120, rows: [149, 178] } },
  { box: [68, 1236, 288, 1450], y: [-0.963, 0.299], yt: Y_TICKS, color: DOUBLE,
    s: [J_WT_CALL, J_MUT_CALL], lab: [MUT13],
    leg: { lx: 122, rows: [135, 162] } }
];

const YW = 62, PT = 6, PR = 10, XH = 64;
const XR = 1065;

const minus = v => (v < 0 ? '\u2212' : '');
const fmtX = v => minus(v) + Math.abs(v);
const fmtY = v => minus(v) + Math.abs(v).toFixed(1);

// R-style axes: box, offset axis lines, outward ticks, rotated y labels
const rAxes = {
  id: 'rAxes',
  afterDraw(chart, args, o) {
    const { ctx, chartArea: a, scales: { x, y } } = chart;
    ctx.save();
    ctx.strokeStyle = '#000';
    ctx.lineWidth = 1.4;
    ctx.strokeRect(a.left, a.top, a.right - a.left, a.bottom - a.top);

    const xs = x.ticks.map(t => x.getPixelForValue(t.value));
    const ys = y.ticks.map(t => y.getPixelForValue(t.value));
    const ay = a.bottom + 4.5, ax = a.left - 4.5;
    ctx.lineWidth = 1;
    ctx.strokeStyle = '#222';
    ctx.beginPath();
    ctx.moveTo(xs[0], ay); ctx.lineTo(xs[xs.length - 1], ay);
    xs.forEach(px => { ctx.moveTo(px, ay); ctx.lineTo(px, ay + 5); });
    ctx.moveTo(ax, ys[0]); ctx.lineTo(ax, ys[ys.length - 1]);
    ys.forEach(py => { ctx.moveTo(ax, py); ctx.lineTo(ax - 5, py); });
    ctx.stroke();

    ctx.fillStyle = '#333';
    ctx.font = '11.5px ' + FONT;
    ctx.textAlign = 'center';
    ctx.textBaseline = 'middle';
    x.ticks.forEach((t, i) => ctx.fillText(fmtX(t.value), xs[i], a.bottom + 22));
    y.ticks.forEach((t, i) => {
      if (o.hide && o.hide.includes(t.value)) return;
      ctx.save();
      ctx.translate(a.left - 18.5, ys[i]);
      ctx.rotate(-Math.PI / 2);
      ctx.fillText(fmtY(t.value), 0, 0);
      ctx.restore();
    });
    ctx.restore();
  }
};

// legend with mixed italic / plain text, like R's legend(bty = "n")
const rLegend = {
  id: 'rLegend',
  afterDraw(chart, args, o) {
    const { ctx, chartArea: a } = chart;
    const x0 = a.left + o.lx;
    ctx.save();
    ctx.textBaseline = 'middle';
    ctx.fillStyle = '#111';
    o.entries.forEach((e, k) => {
      const y0 = a.top + o.rows[k];
      ctx.strokeStyle = e.color;
      ctx.lineWidth = 2.8;
      ctx.setLineDash(e.dash ? DASH : []);
      ctx.beginPath();
      ctx.moveTo(x0, y0);
      ctx.lineTo(x0 + 19, y0);
      ctx.stroke();
      ctx.setLineDash([]);
      e.lines.forEach((segs, li) => {
        let tx = x0 + 23;
        const ty = y0 + li * 15.5;
        segs.forEach(([txt, it]) => {
          ctx.font = (it ? 'italic ' : '') + '13px ' + FONT;
          ctx.fillText(txt, tx, ty);
          tx += ctx.measureText(txt).width;
        });
      });
    });
    ctx.restore();
  }
};

function pts(arr) {
  if (arr.length !== POS.length) throw new Error('series length ' + arr.length);
  return POS.map((p, i) => ({ x: p, y: arr[i] }));
}

PANELS.forEach(p => {
  const [l, t, r, b] = p.box;
  const cv = document.createElement('canvas');
  const w = (r - l) + YW + PR, h = (b - t) + PT + XH;
  cv.width = w; cv.height = h;
  cv.style.left = (l - YW) + 'px';
  cv.style.top = (t - PT) + 'px';
  cv.style.width = w + 'px';
  cv.style.height = h + 'px';
  document.body.appendChild(cv);

  const four = p.s.length === 4;
  const datasets = [];
  const entries = [];
  datasets.push({ data: pts(p.s[0]), borderColor: BLACK, order: 4 });
  entries.push({ color: BLACK, dash: false, lines: [[['wt call', false]]] });
  if (four) {
    datasets.push({ data: pts(p.s[1]), borderColor: BLACK, borderDash: DASH, order: 3 });
    entries.push({ color: BLACK, dash: true, lines: [[['wt no call', false]]] });
    datasets.push({ data: pts(p.s[2]), borderColor: p.color, order: 2 });
    entries.push({ color: p.color, dash: false, lines: p.lab[0] });
    datasets.push({ data: pts(p.s[3]), borderColor: p.color, borderDash: DASH, order: 1 });
    entries.push({ color: p.color, dash: true, lines: p.lab[1] });
  } else {
    datasets.push({ data: pts(p.s[1]), borderColor: p.color, order: 1 });
    entries.push({ color: p.color, dash: false, lines: p.lab[0] });
  }

  new Chart(cv, {
    type: 'line',
    data: { datasets },
    options: {
      responsive: false,
      animation: false,
      devicePixelRatio: 1,
      layout: { padding: { left: 0, top: PT, right: PR, bottom: 0 } },
      elements: {
        point: { radius: 0 },
        line: { tension: 0.35, borderWidth: 2.8, borderCapStyle: 'round', borderJoinStyle: 'round', fill: false }
      },
      plugins: {
        legend: { display: false },
        tooltip: { enabled: false },
        rAxes: { hide: p.hide || [] },
        rLegend: { lx: p.leg.lx, rows: p.leg.rows, entries }
      },
      scales: {
        x: {
          type: 'linear', min: -XR, max: XR,
          grid: { display: false }, border: { display: false },
          ticks: { display: false },
          afterBuildTicks: s => { s.ticks = X_TICKS.map(v => ({ value: v })); },
          afterFit: s => { s.height = XH; },
          title: { display: true, text: 'Position relative to TSS / bp', color: '#000',
                   font: { family: FONT, size: 13, weight: 'bold' }, padding: { top: 0, bottom: 7.2 } }
        },
        y: {
          type: 'linear', min: p.y[0], max: p.y[1],
          grid: { display: false }, border: { display: false },
          ticks: { display: false },
          afterBuildTicks: s => { s.ticks = p.yt.map(v => ({ value: v })); },
          afterFit: s => { s.width = YW; },
          title: { display: true, text: 'Avg. nucleosome occupancy', color: '#000',
                   font: { family: FONT, size: 13, weight: 'bold' }, padding: { top: 12.2, bottom: 0 } }
        }
      }
    },
    plugins: [rAxes, rLegend]
  });
});
</script>
</body>
</html>
